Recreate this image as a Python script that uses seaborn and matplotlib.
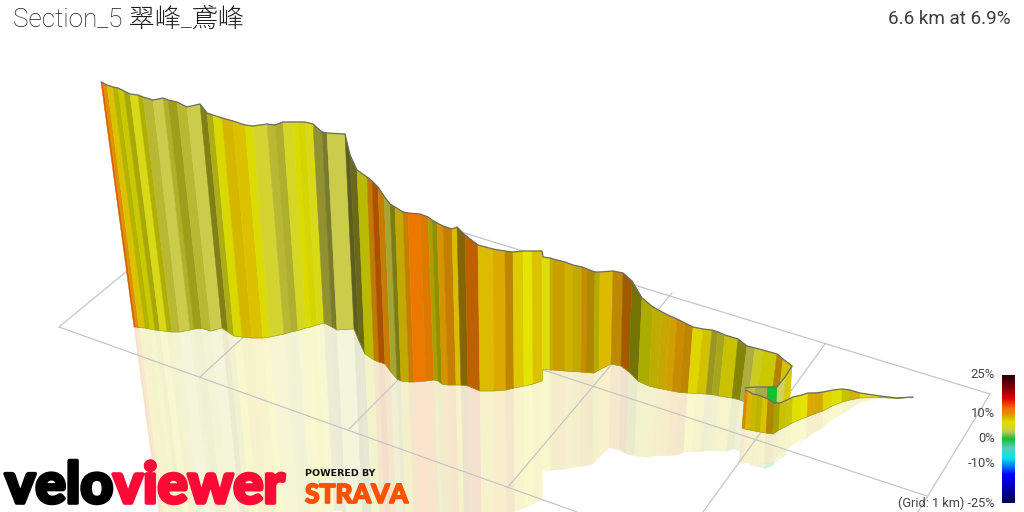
import numpy as np
import seaborn as sns
import matplotlib
matplotlib.use("Agg")
import matplotlib.pyplot as plt
import matplotlib.patheffects as pe
from matplotlib.collections import PolyCollection
from matplotlib.colors import LinearSegmentedColormap, Normalize

TITLE = "Section_5 翠峰_鳶峰"
SUMMARY = "6.6 km at 6.9%"
SCALE_TICKS = [25, 10, 0, -10]
SCALE_LABELS = ["25%", "10%", "0%", "-10%"]
GRID_NOTE = "(Grid: 1 km) -25%"

# ---- projected climb ----
# main wall: top edge, foot edge, gradient (%), lighting of the facet
main_top_x = [101,103,107,113,118,124,130,138,143,153,163,168,177,187,200,207,213,222,233,245,
              253,267,275,283,293,298,305,313,322,327,345,350,357,367,372,378,384,390,395,403,
              408,420,428,432,437,443,452,457,465,478,493,505,513,523,532,542,543,550,553,565,
              573,582,587,595,600,613,623,632,642,653,662,670,677,685,693,703,712,718,725,738,
              747,755,763,777,783,792]
main_top_y = [82,83,85,87,88,91,94,95,97,100,98,100,102,107,104,113,115,118,121,125,
              126,124,125,122,122,122,122,124,132,133,134,155,170,177,181,187,196,204,207,212,
              213,214,217,220,223,226,229,227,235,245,249,251,252,251,251,251,257,258,259,262,
              265,267,269,272,272,271,273,281,298,307,312,316,319,323,327,329,330,332,335,339,
              346,348,350,354,359,366]
main_foot_x = [134,136,139,145,150,155,160,167,172,180,190,194,202,211,222,228,234,242,252,263,
               270,284,291,298,306,311,317,324,332,337,354,359,365,374,379,385,391,397,401,409,
               414,426,434,438,442,448,456,461,468,480,494,506,514,524,533,542,543,550,553,565,
               573,581,586,594,599,611,621,629,638,649,657,665,672,680,688,697,706,712,719,732,
               740,748,756,770,777,787]
main_foot_y = [327,327,327.5,328,329,330,330.5,331.5,332,332,330,329,328.5,331,328,332,336,337,338,338,
               337,334,332,330.5,328,327,325,323,327,330,329,341,354,360,362,364,372,379,381,382,
               382,381,380,381,384,385,385,385,386,391,391,390,388,386,384,381,369,370,370,371,
               371.5,372,372.5,373,370,364,366,372,381,386,388,389.5,391,392.5,393,393.5,394,394.5,396,398,
               400,403,405,410,412,413]
main_grade = [12,10,8,6.5,6.5,6,5.5,6.5,4.2,3.5,4.5,5,4.2,3.5,5,5.5,6.5,8.2,8,6.5,
              4.5,4.2,4.2,5,6.5,6.5,5.5,4,3.5,3.5,4,4.5,6.5,10,12,10,4,5,8,10,
              11.5,11,7.5,6.5,9.5,10,8,9,11.5,8.2,9,9.5,7.5,6.5,8,6,6,8,8.8,8.3,
              8,9.5,9,7,8.3,9.3,11,6,6.5,7.5,8.3,9,9.5,9.5,7,7.5,4.5,5,7,6,
              3.5,5,6.5,9.5,7.5,7.5]
main_light = [.88,1,1,.8,.9,.76,1,.78,.88,1,.84,.74,.88,1,.6,.8,.97,.97,1,.98,
              1,.88,.84,1,.98,.95,1,.7,.6,1,.45,.5,.83,.85,.72,.88,.8,.58,.88,.88,
              1,.95,.78,.64,.95,.88,.98,.6,.8,1,1,.85,1,1.02,1,1,1,.9,.92,.95,
              .88,.9,.8,.8,1,.85,.7,.52,.77,.85,.9,.95,.9,.85,1,.95,.72,.78,.9,.6,
              .85,.95,.9,.82,.95,.95]

# switchback: the short inner wall behind the loop
turn_top_x = [792,785,777,767,755,745]
turn_top_y = [366,377,387,387,387,388]
turn_foot_x = [789,782,775,766,753,743]
turn_foot_y = [413,420,428,430,428,425]
turn_grade = [7,3,0,3,3,3]
turn_light = [.95,1.05,1,.85,.95,.95]

# final stretch in front of the switchback
last_top_x = [745,748,753,758,763,768,774,780,787,793,802,808,815,823,833,842,850,860,880,897,913]
last_top_y = [390,391,394,395,397,399,403,403,400,397,395,393,393,392,390,389,390,393,396,398,397]
last_foot_x = [742,745,750,755,760,766,773,779,785,792,801,807,814,823,832,842,850,860,880,897,913]
last_foot_y = [428,429,430,431,432,433,434,430,427,423,419,417,414,411,406,402,400,398,397.5,398.4,397.2]
last_grade = [10,8.5,7.5,7,8,9,7,7,6,6.5,6.5,9,8.5,7,6.5,6.5,8.2,6,4,2,2]
last_light = [.95,1,.9,.85,1,.8,.75,.9,.9,1,1.02,1,.95,1,1,.87,.95,1,.9,.8,.8]

# floor grid lines: (x0, x1), (y0, y1)
grid_x = [(59,252),(252,990),(59,577),(160,927),(200,300),(348,450),(508,672),(703,825),(918,990)]
grid_y = [(327,168),(168,394),(327,512),(244,496),(377,285),(430,328),(487,293),(512,344),(512,394)]

# colour scale of the gradient legend
scale_pct = [-25,-20,-14,-7.5,-3.5,0,1,3,6.5,8,9,10,12,16,20,25]
scale_hex = ["#000050","#0000a0","#0000ff","#00e8e8","#60c8c0","#10c030","#50c040","#c8c858",
             "#e0e000","#dcc000","#dcaa00","#e09000","#f07000","#e00000","#800000","#2a0000"]

GREY = "#c6c6c6"

sns.set_theme(style="white")
plt.rcParams["font.family"] = ["Roboto", "Noto Sans CJK JP", "DejaVu Sans"]

fig = plt.figure(figsize=(10.24, 5.12), dpi=100, facecolor="white")
ax = fig.add_axes([0, 0, 1, 1])
ax.set_xlim(0, 1024)
ax.set_ylim(512, 0)
ax.axis("off")

lo, hi = min(scale_pct), max(scale_pct)
cmap = LinearSegmentedColormap.from_list(
    "grade", [((p - lo) / (hi - lo), c) for p, c in zip(scale_pct, scale_hex)], N=512)
norm = Normalize(lo, hi)


def colour(g, s):
    return np.clip(np.array(cmap(norm(g))[:3]) * s, 0, 1)


def wall(tx, ty, fx, fy, grade, light, z):
    tx, ty, fx, fy = (np.asarray(a, float) for a in (tx, ty, fx, fy))
    # mirror image on the floor: slightly longer towards the near (left) end
    k = 0.9 + 0.04 * np.clip(542 - tx, 0, 200) / 200
    rx = fx + k * (fx - tx)
    ry = fy + k * (fy - ty)
    faces, mirror, cols, pale = [], [], [], []
    for i in range(len(tx) - 1):
        faces.append([(tx[i], ty[i]), (tx[i+1], ty[i+1]), (fx[i+1], fy[i+1]), (fx[i], fy[i])])
        mirror.append([(fx[i], fy[i]), (fx[i+1], fy[i+1]), (rx[i+1], ry[i+1]), (rx[i], ry[i])])
        cols.append(colour(grade[i], light[i]))
        pale.append(1 - (1 - colour(grade[i], light[i] ** 0.6)) * 0.2)
    ax.add_collection(PolyCollection(mirror, facecolors=pale, edgecolors=pale,
                                     linewidths=0.3, zorder=1))
    ax.add_collection(PolyCollection(faces, facecolors=cols, edgecolors=cols,
                                     linewidths=0.35, zorder=z))
    sns.lineplot(x=fx, y=fy, sort=False, estimator=None, ax=ax, color="#9a9a20",
                 lw=0.4, zorder=z + 0.1, legend=False)
    sns.lineplot(x=tx, y=ty, sort=False, estimator=None, ax=ax, color="#6c6c66",
                 lw=0.9, zorder=z + 0.2, legend=False)


wall(main_top_x, main_top_y, main_foot_x, main_foot_y, main_grade, main_light, 3)
wall(turn_top_x, turn_top_y, turn_foot_x, turn_foot_y, turn_grade, turn_light, 4)
wall(last_top_x, last_top_y, last_foot_x, last_foot_y, last_grade, last_light, 5)

for gx, gy in zip(grid_x, grid_y):
    sns.lineplot(x=list(gx), y=list(gy), sort=False, estimator=None, ax=ax,
                 color=GREY, lw=0.9, zorder=2, legend=False)

ax.set_xlim(0, 1024)
ax.set_ylim(512, 0)
ax.set_xlabel("")
ax.set_ylabel("")

# colour scale
values = np.linspace(hi, lo, 256)[:, None]
ax.imshow(values, cmap=cmap, norm=norm, extent=(1002, 1015, 503, 375),
          aspect="auto", zorder=6, interpolation="bilinear")
ax.set_xlim(0, 1024)
ax.set_ylim(512, 0)
for t, lab in zip(SCALE_TICKS, SCALE_LABELS):
    ax.text(995, 438.5 - t * 2.54, lab, ha="right", va="center", fontsize=9.4,
            color="#444444", zorder=7)
ax.text(995, 503, GRID_NOTE, ha="right", va="center", fontsize=9.2, color="#444444", zorder=7)

# headers
ax.text(13, 20, TITLE, ha="left", va="center", fontsize=18.8, color="#1c1c1c",
        fontweight="light", zorder=7)
ax.text(1011, 19, SUMMARY, ha="right", va="center", fontsize=13.6, color="#3c3c3c",
        fontweight="normal", zorder=7)

# brand marks
ax.text(5, 503, "velo", ha="left", va="baseline", fontsize=41, color="black",
        fontweight="black", family=["Lato", "DejaVu Sans"], zorder=8,
        path_effects=[pe.withStroke(linewidth=2.6, foreground="black")])
ax.text(113, 503, "viewer", ha="left", va="baseline", fontsize=40.5, color="#ff0a36",
        fontweight="black", family=["Lato", "DejaVu Sans"], zorder=8,
        path_effects=[pe.withStroke(linewidth=2.6, foreground="#ff0a36")])
ax.text(305, 473, "POWERED BY", ha="left", va="center", fontsize=6.8, color="#111111",
        fontweight="bold", family=["DejaVu Sans"], zorder=8)
ax.text(305, 503, "STRAVA", ha="left", va="baseline", fontsize=19, color="#fc5200",
        fontweight="black", family=["Lato", "DejaVu Sans"], zorder=8,
        path_effects=[pe.withStroke(linewidth=1.2, foreground="#fc5200")])

fig.savefig("out.png", dpi=100)
